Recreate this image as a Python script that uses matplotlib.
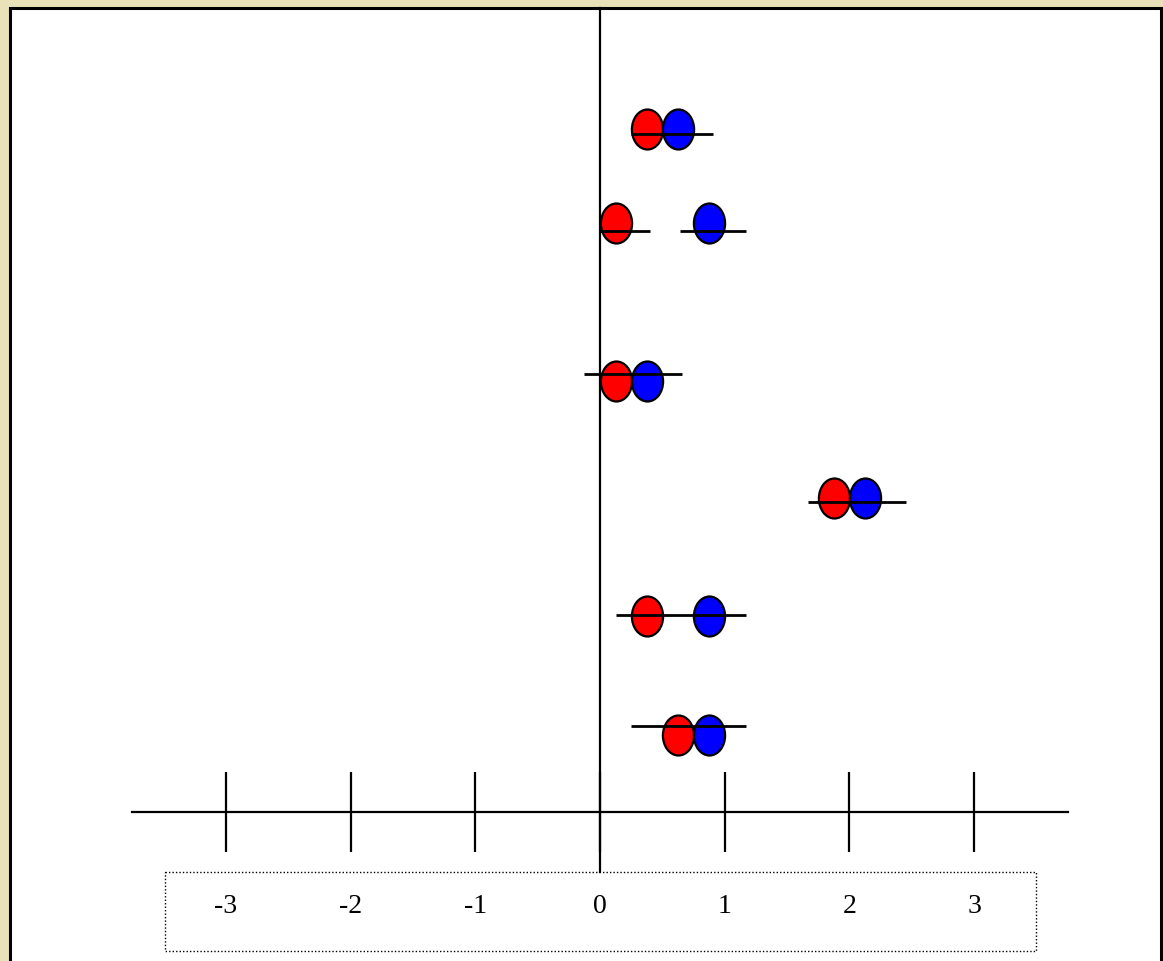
import matplotlib
matplotlib.use("Agg")
import matplotlib.pyplot as plt
from matplotlib.patches import Rectangle
from matplotlib.path import Path
from matplotlib.transforms import Affine2D

# ---- data ----
tick_values = [-3, -2, -1, 0, 1, 2, 3]
tick_labels = ["-3", "-2", "-1", "0", "1", "2", "3"]

# estimates per row (top to bottom)
red_est = [0.375, 0.125, 0.125, 1.875, 0.375, 0.625]
blue_est = [0.625, 0.875, 0.375, 2.125, 0.875, 0.875]
dot_y = [130, 224, 382, 499, 617, 736]

# interval segments
seg_lo = [0.25, 0.0, 0.64, -0.13, 1.67, 0.13, 0.25]
seg_hi = [0.91, 0.40, 1.17, 0.66, 2.45, 1.17, 1.17]
seg_y = [135, 232, 232, 375, 503, 616, 727]

W, H = 1163, 962
PX_PER_UNIT = 124.7
ZERO_PX = 600

fig = plt.figure(figsize=(W / 100, H / 100), dpi=100)
fig.patch.set_facecolor("#E9E1B7")

# white panel with black border
panel = Rectangle((9.5 / W, -0.05), (1160.5 - 9.5) / W, 1.05 - 8.5 / H,
                  transform=fig.transFigure, facecolor="white",
                  edgecolor="black", linewidth=2.2, zorder=0)
fig.add_artist(panel)

ax = fig.add_axes([0, 0, 1, 1])
ax.set_xlim(-ZERO_PX / PX_PER_UNIT, (W - ZERO_PX) / PX_PER_UNIT)
ax.set_ylim(H, 0)
ax.axis("off")
ax.patch.set_alpha(0)

lw = 1.6
# vertical zero line
ax.plot([0, 0], [9, 873], color="black", lw=lw, zorder=2)
# horizontal axis
ax.plot([-3.75, 3.75], [813, 813], color="black", lw=lw, zorder=2)
ax.vlines(tick_values, 773, 853, color="black", lw=lw, zorder=2)

# dotted label box
ax.add_patch(Rectangle((-3.49, 873), 6.99, 79, facecolor="none",
                       edgecolor="black", lw=1.0, linestyle=(0, (1, 1.5)),
                       zorder=2))
for v, lab in zip(tick_values, tick_labels):
    ax.text(v, 907, lab, ha="center", va="center", fontsize=20,
            family="Liberation Serif", zorder=3)

# ellipse marker
ell = Path.unit_circle().transformed(Affine2D().scale(0.78, 1.0))
msize = 40 * 0.72

ax.plot(red_est, dot_y, linestyle="none", marker=ell, markersize=msize,
        markerfacecolor="#FF0000", markeredgecolor="black",
        markeredgewidth=1.6, zorder=4)
ax.plot(blue_est, dot_y, linestyle="none", marker=ell, markersize=msize,
        markerfacecolor="#0000FF", markeredgecolor="black",
        markeredgewidth=1.6, zorder=5)

ax.hlines(seg_y, seg_lo, seg_hi, color="black", lw=lw + 0.4, zorder=6)

fig.savefig("out.png", dpi=100, facecolor=fig.get_facecolor())
